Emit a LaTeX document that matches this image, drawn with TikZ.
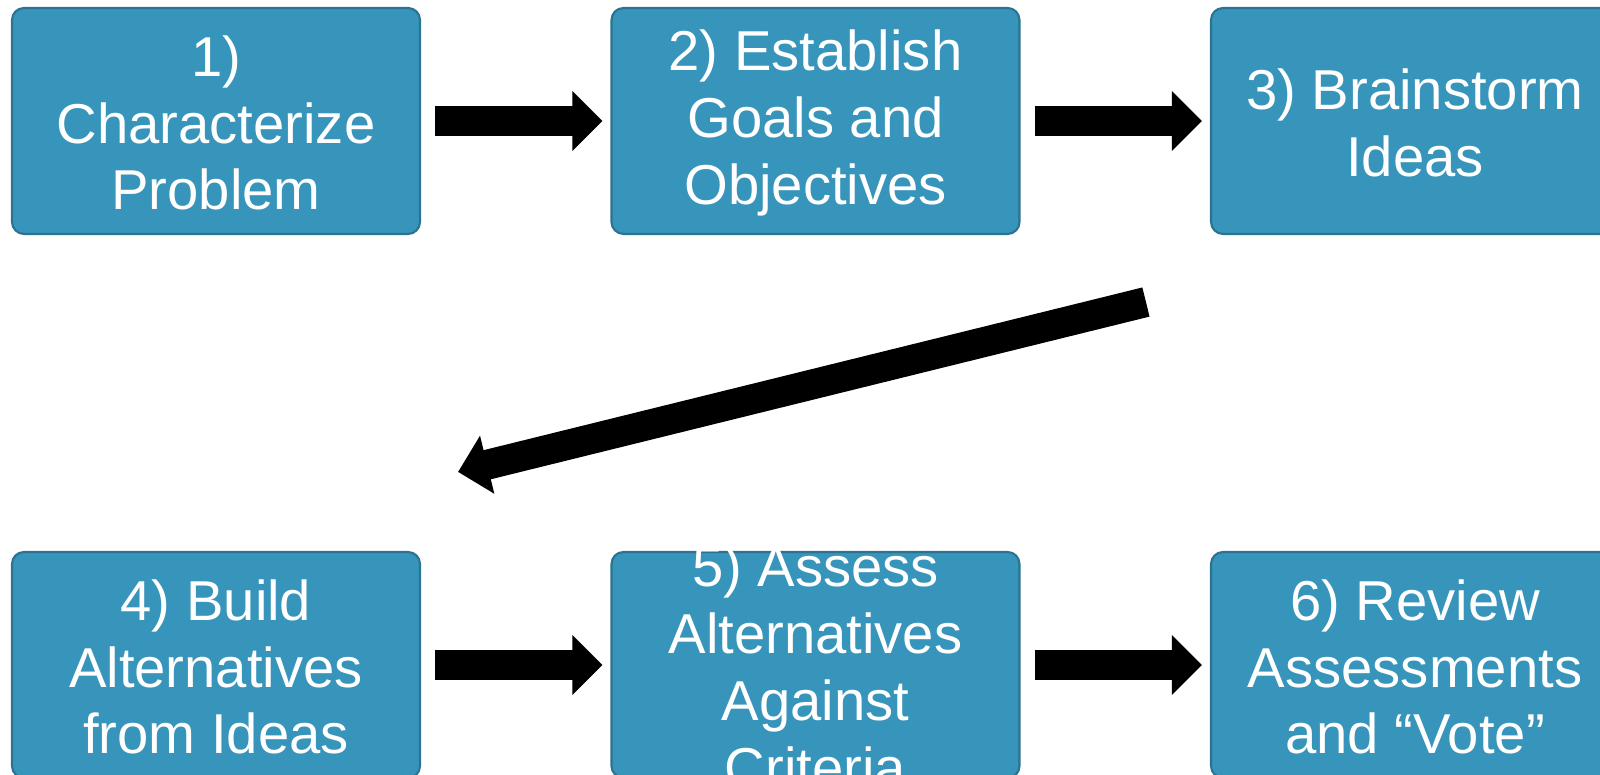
\documentclass[tikz,border=0pt]{standalone}
\usepackage{fontspec}
\setmainfont{Liberation Sans}
\usepackage{tikz}
\usetikzlibrary{arrows.meta}

\definecolor{stepblue}{HTML}{3794BA}
\definecolor{stepedge}{HTML}{2C7393}
\newcommand{\stepfont}{\fontsize{16}{19}\selectfont}

\tikzset{
  fatarrow/.style={line width=0.30cm, -{Triangle[length=0.30cm,width=0.58cm]}},
  gap/.style={shorten <=0.14cm, shorten >=0.08cm}
}

\begin{document}
\begin{tikzpicture}

        \useasboundingbox (0,0) rectangle (16,7.75);

        \begin{scope}[every node/.style={rectangle, draw=stepedge, fill=stepblue, line width=0.6pt,
            rounded corners=0.12cm, minimum width=4.08cm, minimum height=2.26cm, inner sep=0pt}]
          \node (b1) at (2.16,6.54)  {};
          \node (b2) at (8.155,6.54) {};
          \node (b3) at (14.15,6.54) {};
          \node (b4) at (2.16,1.10)  {};
          \node (b5) at (8.155,1.10) {};
          \node (b6) at (14.15,1.10) {};
        \end{scope}

        \begin{scope}[every node/.style={text=white, font=\stepfont, align=center, inner sep=0pt}]
          \node (t1) at ([yshift=-0.02cm]b1) {1)\\Characterize\\Problem};
          \node (t2) at ([yshift=-0.02cm]b2) {2) Establish\\Goals and\\Objectives};
          \node (t3) at ([yshift=-0.02cm]b3) {3) Brainstorm\\Ideas};
          \node (t4) at ([yshift=-0.02cm]b4) {4) Build\\Alternatives\\from Ideas};
          \node (t5) at ([yshift=-0.02cm]b5) {5) Assess\\Alternatives\\Against\\Criteria};
          \node (t6) at ([yshift=-0.02cm]b6) {6) Review\\Assessments\\and “Vote”};
        \end{scope}

        \coordinate (dtail) at ([shift={(-0.64,-0.67)}]b3.south west);
        \coordinate (dhead) at ([shift={(0.37,0.79)}]b4.north east);

        \path[fatarrow, gap] (b1) edge (b2);
        \path[fatarrow, gap] (b2) edge (b3);
        \path[fatarrow, gap] (b4) edge (b5);
        \path[fatarrow, gap] (b5) edge (b6);
        \draw[fatarrow] (dtail) -- (dhead);

      \end{tikzpicture}
\end{document}
